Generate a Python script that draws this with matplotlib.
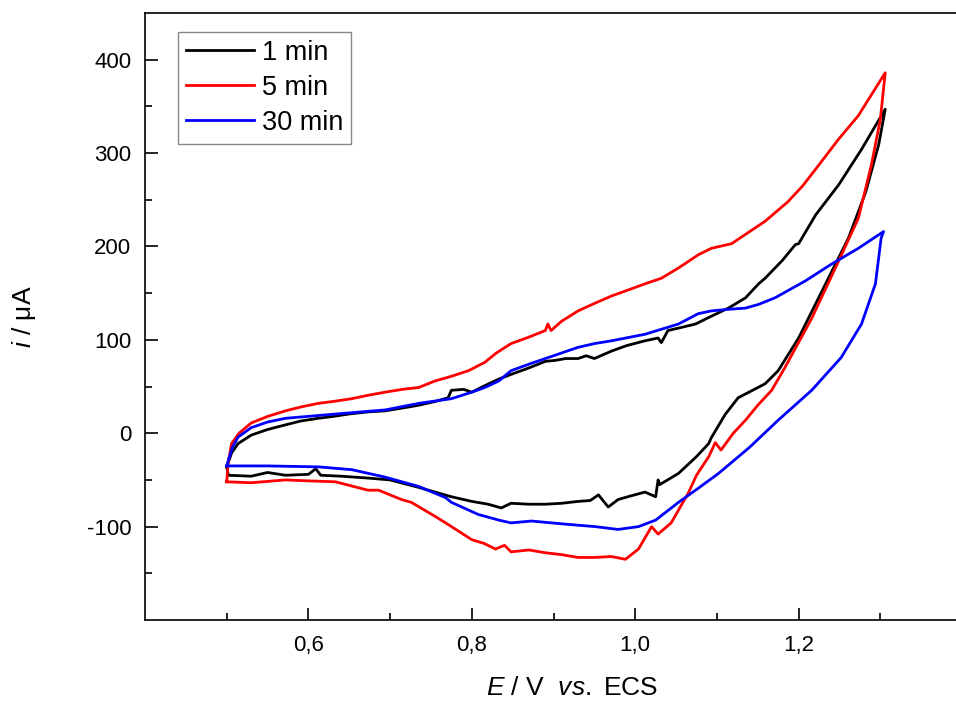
import numpy as np
import matplotlib
matplotlib.use("Agg")
import matplotlib.pyplot as plt

plt.rcParams['font.family'] = ['Liberation Sans', 'DejaVu Sans']
plt.rcParams['mathtext.fontset'] = 'custom'
plt.rcParams['mathtext.rm'] = 'Liberation Sans'
plt.rcParams['mathtext.it'] = 'Liberation Sans:italic'
plt.rcParams['axes.unicode_minus'] = False

# 1 min (black): forward then reverse scan
e_1min = [0.500, 0.506, 0.514, 0.530, 0.550, 0.572, 0.590, 0.612, 0.630, 0.653, 0.675, 0.694,
          0.715, 0.735, 0.755, 0.771, 0.775, 0.790, 0.800, 0.816, 0.833, 0.848, 0.870, 0.890,
          0.902, 0.915, 0.930, 0.940, 0.950, 0.971, 0.990, 1.012, 1.028, 1.032, 1.040, 1.055,
          1.074, 1.090, 1.114, 1.135, 1.151, 1.159, 1.180, 1.196, 1.200, 1.221, 1.249, 1.277,
          1.306,
          1.298, 1.282, 1.261, 1.233, 1.200, 1.175, 1.159, 1.126, 1.110, 1.093, 1.090, 1.075,
          1.053, 1.030, 1.028, 1.025, 1.012, 0.995, 0.979, 0.967, 0.955, 0.945, 0.930, 0.910,
          0.890, 0.870, 0.848, 0.836, 0.820, 0.800, 0.775, 0.755, 0.735, 0.700, 0.673, 0.640,
          0.615, 0.609, 0.600, 0.572, 0.550, 0.530, 0.502, 0.500]
i_1min = [-36, -21, -11, -2, 4, 9, 13, 16, 18, 21, 23, 24,
          27, 30, 34, 38, 46, 47, 44, 51, 58, 63, 70, 77,
          78, 80, 80, 83, 80, 88, 94, 99, 102, 97, 110, 113,
          117, 124, 134, 145, 160, 166, 185, 202, 203, 234, 266, 304,
          347,
          309, 258, 209, 160, 102, 67, 53, 38, 20, -5, -11, -25,
          -43, -55, -50, -68, -63, -67, -71, -79, -66, -72, -73, -75,
          -76, -76, -75, -80, -76, -73, -68, -63, -58, -50, -48, -46,
          -45, -38, -44, -45, -42, -46, -45, -36]

# 5 min (red)
e_5min = [0.500, 0.502, 0.506, 0.515, 0.530, 0.550, 0.572, 0.590, 0.612, 0.630, 0.653, 0.675,
          0.694, 0.715, 0.735, 0.755, 0.775, 0.796, 0.816, 0.830, 0.848, 0.870, 0.890, 0.893,
          0.897, 0.910, 0.930, 0.950, 0.971, 0.990, 1.012, 1.032, 1.053, 1.077, 1.093, 1.118,
          1.135, 1.159, 1.187, 1.205, 1.221, 1.249, 1.273, 1.306,
          1.300, 1.289, 1.273, 1.245, 1.216, 1.183, 1.167, 1.150, 1.135, 1.120, 1.105, 1.098,
          1.090, 1.075, 1.065, 1.044, 1.028, 1.020, 1.004, 0.988, 0.971, 0.950, 0.930, 0.910,
          0.890, 0.870, 0.848, 0.840, 0.829, 0.815, 0.800, 0.768, 0.755, 0.726, 0.714, 0.686,
          0.673, 0.633, 0.600, 0.572, 0.530, 0.500]
i_5min = [-52, -30, -11, 0, 11, 18, 24, 28, 32, 34, 37, 41,
          44, 47, 49, 56, 61, 67, 76, 86, 96, 103, 110, 117,
          110, 120, 131, 139, 147, 153, 160, 166, 177, 191, 198, 203,
          213, 227, 248, 265, 283, 315, 340, 386,
          336, 287, 230, 177, 123, 70, 46, 30, 14, 0, -18, -10,
          -25, -45, -64, -96, -108, -100, -124, -135, -132, -133, -133, -130,
          -128, -125, -127, -120, -124, -118, -114, -96, -89, -74, -71, -61,
          -61, -52, -51, -50, -53, -52]

# 30 min (blue)
e_30min = [0.500, 0.502, 0.507, 0.514, 0.530, 0.550, 0.572, 0.612, 0.653, 0.694, 0.735, 0.775,
           0.800, 0.816, 0.833, 0.848, 0.870, 0.890, 0.910, 0.930, 0.950, 0.971, 1.012, 1.053,
           1.077, 1.093, 1.118, 1.135, 1.151, 1.171, 1.208, 1.240, 1.273, 1.304,
           1.301, 1.294, 1.277, 1.252, 1.216, 1.175, 1.140, 1.102, 1.077, 1.053, 1.025, 1.004,
           0.979, 0.951, 0.910, 0.873, 0.848, 0.833, 0.808, 0.775, 0.768, 0.735, 0.694, 0.653,
           0.612, 0.550, 0.500]
i_30min = [-35, -29, -15, -4, 6, 12, 16, 19, 22, 25, 32, 37,
           44, 49, 56, 67, 74, 80, 86, 92, 96, 99, 106, 117,
           128, 131, 133, 134, 138, 145, 163, 181, 198, 216,
           209, 160, 117, 81, 46, 14, -15, -43, -59, -74, -93, -100,
           -103, -100, -97, -94, -96, -93, -87, -74, -69, -57, -47, -39,
           -36, -35, -35]

labels = ['1 min', '5 min', '30 min']
x_major = [0.6, 0.8, 1.0, 1.2]
x_major_labels = ['0,6', '0,8', '1,0', '1,2']
x_minor = [0.5, 0.7, 0.9, 1.1, 1.3]
y_major = [-100, 0, 100, 200, 300, 400]
y_minor = [-150, -50, 50, 150, 250, 350]

fig = plt.figure(figsize=(9.56, 7.04), dpi=100)
ax = fig.add_axes([0.1517, 0.1193, 0.8546, 0.8622])

ax.plot(e_1min, i_1min, color='black', lw=2.0, label=labels[0])
ax.plot(e_5min, i_5min, color='#ff0000', lw=2.0, label=labels[1])
ax.plot(e_30min, i_30min, color='#0000ff', lw=2.0, label=labels[2])

ax.set_xlim(0.4, 1.4)
ax.set_ylim(-200, 450)
ax.set_xticks(x_major)
ax.set_xticklabels(x_major_labels, fontsize=16)
ax.set_xticks(x_minor, minor=True)
ax.set_yticks(y_major)
ax.set_yticks(y_minor, minor=True)

ax.tick_params(which='major', direction='in', length=9, width=1.2, labelsize=16, pad=10)
ax.tick_params(axis='x', which='major', pad=11)
ax.tick_params(which='minor', direction='in', length=5, width=1.2)
for s in ax.spines.values():
    s.set_linewidth(1.2)

ax.set_xlabel(r'$\it{E}$ / V  $\it{vs.}$ ECS', fontsize=19)
ax.set_ylabel(r'$\it{i}$ / μA', fontsize=19)
ax.xaxis.set_label_coords(0.523, -0.093)
ax.yaxis.set_label_coords(-0.131, 0.5)

leg = ax.legend(loc='upper left', bbox_to_anchor=(0.040, 0.969), borderaxespad=0,
                fontsize=19.5, handlelength=2.5, handletextpad=0.3, labelspacing=0.33,
                borderpad=0.3, fancybox=False, framealpha=1, edgecolor='#888888')
leg.get_frame().set_linewidth(1.0)

fig.savefig('out.png', dpi=100)
